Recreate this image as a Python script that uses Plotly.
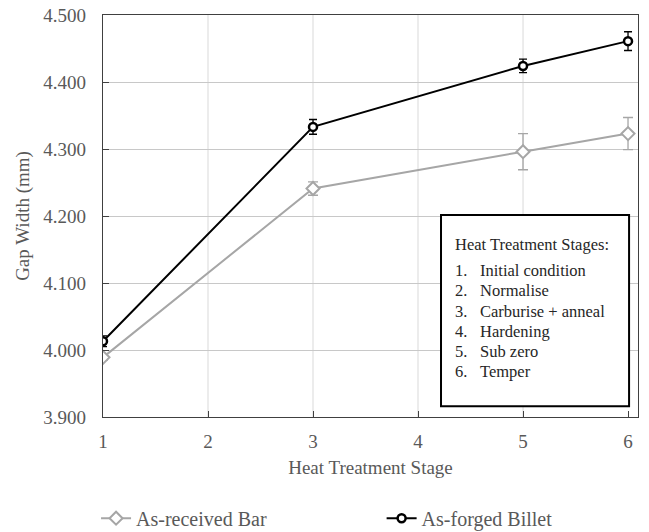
import plotly.graph_objects as go

stages = [1, 3, 5, 6]
bar_values = [3.989, 4.241, 4.296, 4.323]
bar_errors = [0.004, 0.010, 0.027, 0.024]
billet_values = [4.013, 4.333, 4.424, 4.461]
billet_errors = [0.008, 0.011, 0.010, 0.014]

x_ticks = [1, 2, 3, 4, 5, 6]
y_ticks = [3.9, 4.0, 4.1, 4.2, 4.3, 4.4, 4.5]
y_tick_labels = ["3.900", "4.000", "4.100", "4.200", "4.300", "4.400", "4.500"]
grid_x = [2, 3, 4, 5]

box_heading = "Heat Treatment Stages:"
stage_names = ["Initial condition", "Normalise", "Carburise + anneal",
               "Hardening", "Sub zero", "Temper"]

FONT = "Times New Roman, Liberation Serif, Tinos, DejaVu Serif, Noto Serif, serif"
GRAY = "#a6a6a6"
TXT = "#595959"

fig = go.Figure()

fig.add_trace(go.Scatter(
    x=stages, y=bar_values, name="As-received Bar", mode="lines+markers",
    line=dict(color=GRAY, width=2), legend="legend",
    marker=dict(symbol="diamond", size=10, color="white", line=dict(color=GRAY, width=2)),
    error_y=dict(type="data", array=bar_errors, visible=True, color=GRAY, thickness=1.3, width=5),
))
fig.add_trace(go.Scatter(
    x=stages, y=billet_values, name="As-forged Billet", mode="lines+markers",
    line=dict(color="black", width=2), legend="legend2",
    marker=dict(symbol="circle", size=8, color="white", line=dict(color="black", width=2.5)),
    error_y=dict(type="data", array=billet_errors, visible=True, color="black", thickness=1.3, width=4),
))

shapes = []
for gx in grid_x:
    shapes.append(dict(type="line", xref="x", yref="y", x0=gx, x1=gx, y0=3.9, y1=4.5,
                       line=dict(color="#d9d9d9", width=1), layer="below"))
shapes.append(dict(type="rect", xref="x", yref="y", x0=4.219, x1=6.01, y0=3.916, y1=4.2015,
                   line=dict(color="black", width=2), fillcolor="white", layer="above"))

annotations = []
head_y = 4.157
annotations.append(dict(x=4.333, y=head_y, xref="x", yref="y", text=box_heading,
                        showarrow=False, xanchor="left", yanchor="middle",
                        font=dict(family=FONT, size=16.5, color="#262626")))
step = 0.0299
first_y = 4.118
for i, name in enumerate(stage_names):
    yy = first_y - i * step
    annotations.append(dict(x=4.333, y=yy, xref="x", yref="y", text=f"{i+1}.",
                            showarrow=False, xanchor="left", yanchor="middle",
                            font=dict(family=FONT, size=16.5, color="#262626")))
    annotations.append(dict(x=4.571, y=yy, xref="x", yref="y", text=name,
                            showarrow=False, xanchor="left", yanchor="middle",
                            font=dict(family=FONT, size=16.5, color="#262626")))

legend_common = dict(orientation="h", xref="container", yref="container",
                     xanchor="left", y=0.026, yanchor="middle",
                     font=dict(family=FONT, size=20, color=TXT), bgcolor="rgba(0,0,0,0)")

fig.update_layout(
    width=649, height=532,
    margin=dict(l=103, r=11, t=15, b=115, autoexpand=False),
    paper_bgcolor="white", plot_bgcolor="white",
    font=dict(family=FONT, size=19, color=TXT),
    shapes=shapes, annotations=annotations,
    showlegend=True,
    legend=dict(x=0.148, **legend_common),
    legend2=dict(x=0.588, **legend_common),
)
fig.update_xaxes(
    range=[1, 6.095], tickvals=x_ticks, showgrid=False, zeroline=False, automargin=False,
    showline=True, linecolor="#404040", linewidth=1.3, mirror=True,
    ticks="inside", ticklen=6, tickcolor="#404040", ticklabelstandoff=7,
    title=dict(text="Heat Treatment Stage", standoff=9, font=dict(family=FONT, size=19, color=TXT)),
)
fig.update_yaxes(
    range=[3.9, 4.5], tickvals=y_ticks, ticktext=y_tick_labels, automargin=False,
    showgrid=True, gridcolor="#c8c8c8", gridwidth=1, zeroline=False,
    showline=True, linecolor="#404040", linewidth=1.3, mirror=True,
    ticks="inside", ticklen=6, tickcolor="#404040", ticklabelstandoff=12,
    title=dict(text="Gap Width (mm)", standoff=8, font=dict(family=FONT, size=19, color=TXT)),
)

fig.write_html("out.html")
